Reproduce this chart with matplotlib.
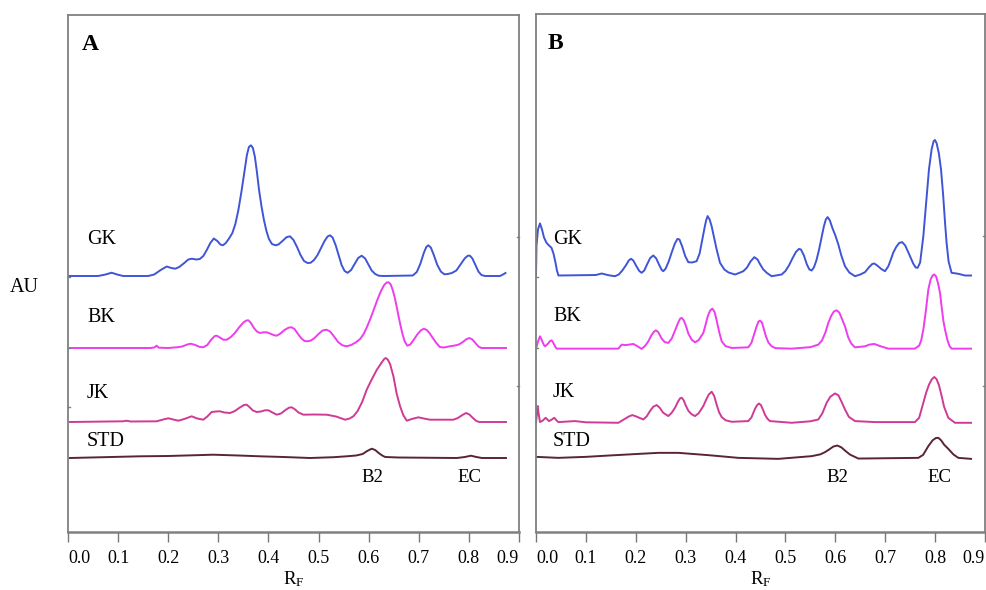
import matplotlib
matplotlib.use("Agg")
import matplotlib.pyplot as plt

plt.rcParams['font.family'] = ['Liberation Serif', 'DejaVu Serif']
plt.rcParams['mathtext.fontset'] = 'custom'
plt.rcParams['mathtext.rm'] = 'Liberation Serif'
plt.rcParams['mathtext.it'] = 'Liberation Serif:italic'

# ---------------- Panel A data (Rf, intensity above baseline) ----------------
a_gk_rf = [0.000, 0.060, 0.075, 0.087, 0.098, 0.110, 0.160, 0.172, 0.185, 0.197, 0.206, 0.214, 0.222, 0.232,
           0.240, 0.247, 0.256, 0.263, 0.270, 0.277, 0.284, 0.291, 0.298, 0.304, 0.309, 0.315, 0.322, 0.328,
           0.334, 0.340, 0.346, 0.352, 0.357, 0.361, 0.365, 0.369, 0.373, 0.377, 0.381, 0.386, 0.391, 0.396,
           0.401, 0.407, 0.414, 0.420, 0.428, 0.436, 0.443, 0.450, 0.457, 0.464, 0.471, 0.478, 0.484, 0.491,
           0.498, 0.505, 0.512, 0.518, 0.523, 0.528, 0.534, 0.540, 0.546, 0.552, 0.558, 0.565, 0.572, 0.579,
           0.586, 0.593, 0.600, 0.606, 0.613, 0.620, 0.630, 0.688, 0.696, 0.703, 0.710, 0.715, 0.719, 0.724,
           0.730, 0.737, 0.744, 0.751, 0.758, 0.766, 0.775, 0.784, 0.792, 0.798, 0.802, 0.807, 0.813, 0.819,
           0.825, 0.832, 0.862, 0.868, 0.873]
a_gk_au = [0, 0, 1.5, 3.3, 1.5, 0, 0, 1.5, 6, 9.5, 8, 7.3, 9, 13,
           16.5, 17.3, 16.5, 17, 20, 26, 33, 37.5, 35, 31.5, 30.7, 33, 38, 43,
           52, 66, 84, 104, 121, 129, 130.7, 128, 119, 104, 87, 70, 56, 45,
           37, 32, 30.7, 31.5, 35, 38.8, 39.7, 36, 29, 21, 15, 13, 13.2, 16,
           21, 28, 35, 39.5, 40.7, 38.5, 31, 21, 11, 5, 3.2, 6, 12, 18,
           20.3, 17.5, 11, 5.5, 2, 0.3, 0, 0.5, 4, 12, 23, 29, 30.7, 28.5,
           21, 11, 4.5, 1.7, 2, 3, 5.5, 12, 17.8, 20.3, 20.3, 17.5, 11, 4.5,
           1, 0, 0, 1.5, 3]

a_bk_rf = [0.004, 0.165, 0.172, 0.177, 0.181, 0.200, 0.217, 0.228, 0.238, 0.245, 0.254, 0.262, 0.270, 0.278,
           0.286, 0.293, 0.297, 0.303, 0.310, 0.317, 0.325, 0.333, 0.342, 0.350, 0.356, 0.360, 0.365, 0.371,
           0.377, 0.383, 0.390, 0.397, 0.404, 0.411, 0.4165, 0.424, 0.432, 0.440, 0.446, 0.452, 0.459, 0.466,
           0.472, 0.478, 0.485, 0.492, 0.500, 0.508, 0.516, 0.523, 0.531, 0.539, 0.547, 0.556, 0.565, 0.574,
           0.583, 0.590, 0.597, 0.604, 0.611, 0.618, 0.625, 0.631, 0.636, 0.640, 0.644, 0.648, 0.652, 0.656,
           0.660, 0.664, 0.668, 0.672, 0.677, 0.683, 0.690, 0.697, 0.704, 0.710, 0.716, 0.722, 0.728, 0.735,
           0.742, 0.750, 0.762, 0.772, 0.780, 0.788, 0.795, 0.801, 0.807, 0.813, 0.819, 0.825, 0.874]
a_bk_au = [0, 0, 0.5, 2.3, 0.3, 0, 0.7, 1.5, 3.5, 4.3, 3, 1.2, 0.7, 3,
           8.5, 12, 12.3, 10.5, 8.3, 8.3, 11, 15, 21, 25.5, 27.5, 27.7, 25, 20,
           16.5, 15, 15.7, 15.7, 14.3, 12.8, 12.3, 14.5, 18, 20.3, 20.7, 19, 14, 9.5,
           7, 6.7, 7.5, 10, 14, 17.5, 18.3, 16.5, 11.5, 6, 2.8, 1.7, 3, 5.5,
           9, 14, 21.5, 30, 39.5, 49, 57.5, 63, 65.5, 65.7, 63.5, 58, 50.5, 41,
           31, 21.5, 13, 6.5, 2.3, 3.5, 8.3, 13.5, 17.5, 19.3, 18, 14.5, 10, 5,
           1, 0.5, 1.7, 2.5, 3.5, 6, 8.8, 10, 8.5, 5, 1.5, 0, 0]

a_jk_rf = [0.004, 0.110, 0.117, 0.125, 0.177, 0.190, 0.2003, 0.210, 0.2203, 0.232, 0.2468, 0.258, 0.270,
           0.278, 0.2867, 0.295, 0.3034, 0.312, 0.3234, 0.333, 0.343, 0.351, 0.3566, 0.362, 0.369, 0.3766,
           0.385, 0.393, 0.400, 0.408, 0.4165, 0.425, 0.434, 0.441, 0.4464, 0.452, 0.460, 0.4697, 0.490,
           0.5163, 0.535, 0.553, 0.562, 0.5695, 0.578, 0.587, 0.5961, 0.605, 0.616, 0.626, 0.631, 0.634,
           0.638, 0.6427, 0.6494, 0.656, 0.6627, 0.669, 0.676, 0.686, 0.6993, 0.710, 0.7225, 0.7691, 0.778,
           0.787, 0.7944, 0.801, 0.808, 0.815, 0.821, 0.874]
a_jk_au = [0, 0.7, 1.3, 0.5, 0.7, 2.5, 3.7, 2.5, 1.3, 3, 5.7, 3.5, 2.3,
           5.5, 10, 10.5, 10.7, 9.5, 9, 11, 14.5, 17, 17.3, 15, 11.5, 10,
           10.5, 11.7, 11.7, 9.5, 7.3, 8.5, 12, 14.3, 14.7, 13, 9.5, 7.3, 7.5,
           7.3, 5.5, 2.3, 3.5, 5.7, 11, 20, 32.3, 41.5, 52, 59.5, 63, 64,
           62.5, 58, 45.7, 28, 15.7, 7, 1.3, 3, 4.7, 3.5, 2.3, 2.3, 4,
           7, 9, 7.5, 4, 1, 0, 0]

a_std_rf = [0.004, 0.144, 0.200, 0.2901, 0.340, 0.383, 0.430, 0.483, 0.530, 0.556, 0.575, 0.588, 0.597,
            0.606, 0.613, 0.620, 0.627, 0.633, 0.660, 0.776, 0.792, 0.804, 0.815, 0.826, 0.874]
a_std_au = [0, 1.7, 2, 3.3, 2.5, 1.7, 1, 0, 0.8, 1.7, 2.5, 4, 7,
            9.3, 8, 5, 2.5, 1, 0.5, 0, 1, 2.3, 1, 0, 0]

# ---------------- Panel B data ----------------
b_gk_rf = [0.000, 0.001, 0.004, 0.008, 0.012, 0.016, 0.021, 0.026, 0.031, 0.035, 0.039, 0.042, 0.045, 0.090,
           0.120, 0.1317, 0.145, 0.1583, 0.166, 0.173, 0.180, 0.186, 0.1904, 0.195, 0.201, 0.207, 0.2118,
           0.217, 0.223, 0.229, 0.2351, 0.241, 0.247, 0.252, 0.2552, 0.260, 0.266, 0.272, 0.278, 0.2835, 0.2875,
           0.293, 0.299, 0.3053, 0.313, 0.322, 0.328, 0.333, 0.338, 0.341, 0.344, 0.348, 0.352, 0.356, 0.3621,
           0.3688, 0.3775, 0.386, 0.3989, 0.407, 0.4156, 0.423, 0.430, 0.4376, 0.444, 0.450, 0.4557,
           0.463, 0.4723, 0.4924, 0.500, 0.507, 0.514, 0.521, 0.527, 0.531, 0.537, 0.543, 0.548, 0.5525,
           0.557, 0.562, 0.567, 0.572, 0.577, 0.581, 0.5846, 0.589, 0.594, 0.600, 0.606, 0.612, 0.6193,
           0.628, 0.6394, 0.650, 0.6594, 0.668, 0.674, 0.678, 0.684, 0.692, 0.6995, 0.706, 0.711, 0.716,
           0.722, 0.728, 0.734, 0.740, 0.745, 0.7497, 0.756, 0.761, 0.765, 0.770, 0.7764, 0.782, 0.7877,
           0.793, 0.797, 0.7997, 0.803, 0.8075, 0.8118, 0.816, 0.820, 0.823, 0.827, 0.833, 0.8466, 0.860,
           0.872]
b_gk_au = [0, 30, 46, 52, 46, 38, 32.7, 30, 27.7, 22, 13, 5, 0, 0.3,
           0.5, 2, 0.3, -0.7, 1, 5, 10, 15, 16.7, 15, 9.5, 4.5, 2.7,
           5, 11.5, 17.5, 20, 17, 10.5, 5.5, 4.3, 7, 14, 23, 31.5, 36.5, 36,
           29, 19.5, 13.3, 13, 14.3, 22, 35, 48, 55, 59.3, 56, 49.3, 40, 26,
           12.7, 6, 3, 1, 2.5, 4.3, 8, 14, 18.3, 16, 10.5, 6,
           2.5, -0.7, 1, 4.5, 10, 17, 23.5, 26.5, 26, 20, 11, 6, 5,
           8, 15, 25, 37, 49, 56, 58.3, 55, 47.5, 40, 31, 20, 9.3,
           3, -0.7, 1, 3.3, 8.5, 11.5, 12, 10, 6.5, 4.3, 9, 15.5, 22.7,
           28.5, 32.5, 33.3, 30, 24.5, 19.3, 12, 8, 7.7, 13, 39.3, 72, 106,
           126, 134, 135.3, 132, 122, 106, 81, 52, 32.7, 14, 2.7, 1.7, 0,
           0]

b_bk_rf = [0.000, 0.004, 0.008, 0.012, 0.016, 0.0184, 0.024, 0.028, 0.0314, 0.035, 0.039, 0.0414, 0.1651,
           0.1717, 0.180, 0.1951, 0.203, 0.2118, 0.219, 0.2252, 0.231, 0.2365, 0.2405, 0.245, 0.2519, 0.258,
           0.2653, 0.272, 0.2786, 0.285, 0.289, 0.292, 0.296, 0.300, 0.3054, 0.312, 0.3187, 0.326, 0.3354,
           0.3405, 0.3441, 0.349, 0.3535, 0.358, 0.3622, 0.367, 0.3722, 0.380, 0.3922, 0.4256, 0.432, 0.437,
           0.442, 0.446, 0.449, 0.453, 0.457, 0.461, 0.466, 0.4724, 0.480, 0.5125, 0.550, 0.5659, 0.573,
           0.580, 0.5859, 0.592, 0.597, 0.6026, 0.608, 0.613, 0.6193, 0.626, 0.632, 0.6394, 0.6594, 0.668,
           0.678, 0.690, 0.7061, 0.7595, 0.768, 0.772, 0.7764, 0.781, 0.7864, 0.791, 0.795, 0.7984, 0.802,
           0.806, 0.8098, 0.8135, 0.8165, 0.8198, 0.825, 0.829, 0.8331, 0.872]
b_bk_au = [0, 7, 12.3, 8, 3.5, 2.3, 5, 7.5, 8.3, 5.5, 1.5, 0, 0,
           4, 3.5, 4.7, 2.5, -0.3, 3, 7.3, 13, 17, 18.3, 16.5, 10, 6.5,
           5.7, 10, 18, 26, 30, 30.7, 28.5, 23.5, 15, 9, 6.3, 8.5, 15.7,
           25, 32, 38, 40, 36.5, 28, 17, 7.3, 2.5, 0.7, 1.3, 6, 14,
           22, 27, 28, 26, 19, 12, 6, 2.3, 0.5, 0, 1.5, 4, 8,
           16, 25.7, 33, 37, 38.3, 36, 30, 22.3, 11, 5, 1.3, 2.3, 4,
           4.7, 2.5, 0, 0, 3, 8, 19, 36, 59, 69, 73, 74, 72,
           65, 55.7, 40, 28, 19, 8, 2.5, 0, 0]

b_jk_rf = [0.000, 0.0025, 0.0035, 0.005, 0.008, 0.013, 0.0194, 0.026, 0.031, 0.0367, 0.041, 0.0448, 0.0782,
           0.100, 0.1651, 0.1784, 0.186, 0.1931, 0.200, 0.2151, 0.222, 0.2285, 0.235, 0.2419, 0.248, 0.255,
           0.2653, 0.272, 0.2786, 0.285, 0.289, 0.292, 0.296, 0.300, 0.3054, 0.312, 0.3187, 0.326, 0.3354,
           0.341, 0.346, 0.3521, 0.357, 0.3622, 0.367, 0.3722, 0.380, 0.3922, 0.4256, 0.432, 0.439, 0.443,
           0.447, 0.451, 0.455, 0.459, 0.464, 0.469, 0.5125, 0.550, 0.5659, 0.574, 0.5826, 0.590, 0.5993,
           0.606, 0.612, 0.6193, 0.627, 0.6394, 0.6794, 0.7595, 0.768, 0.7764, 0.782, 0.7877, 0.7935, 0.7984,
           0.803, 0.808, 0.8131, 0.818, 0.8264, 0.8398, 0.872]
b_jk_au = [0, 12, 16.7, 10, 0.7, 2, 5, 1.7, 3, 5, 2.5, 0.7, 1.7,
           0.5, 0, 4, 6.3, 7.7, 6.5, 3.3, 6.5, 11.7, 16, 17.7, 15, 10,
           6.7, 10, 15, 21.5, 24.5, 25, 22.5, 17.5, 12, 8.5, 6.7, 9.5, 16.7,
           23, 28, 31, 27, 18, 10.5, 5.7, 2.5, 1, 1.7, 5.5, 14, 17.5,
           19.3, 17.5, 13, 8, 4, 1.7, 0, 1.5, 3.3, 9.5, 20, 26, 29.3,
           27.5, 21.5, 13.3, 6, 1.7, 0.7, 0.7, 5, 20, 30, 38, 43.5, 45.7,
           43.5, 37, 26.7, 16, 5, 0, 0]

b_std_rf = [0.000, 0.0448, 0.100, 0.145, 0.200, 0.2452, 0.2853, 0.3454, 0.4056, 0.4858, 0.5525, 0.570,
            0.5793, 0.588, 0.596, 0.604, 0.612, 0.620, 0.6293, 0.6461, 0.7664, 0.776, 0.7864, 0.795, 0.8015,
            0.8065, 0.812, 0.8183, 0.8264, 0.8365, 0.8465, 0.872]
b_std_au = [1, 0, 1, 2.3, 3.8, 5, 5, 2.7, 0, -1, 1.7, 3.5,
            5.7, 8.5, 11.3, 12.3, 10.5, 7, 3.3, -0.7, 0, 3, 11.7, 17.5, 19.8,
            20, 17.5, 13, 9, 3.5, 0, -1]

# trace names and vertical offsets (baselines)
trace_names = ["GK", "BK", "JK", "STD"]
baselines_a = [256, 184, 110, 74]
baselines_b = [256, 183, 109, 74]
colors = ["#3f55d6", "#ee3cee", "#cf3a96", "#5a2438"]

x_ticks = [0.0, 0.1, 0.2, 0.3, 0.4, 0.5, 0.6, 0.7, 0.8, 0.9]
x_ticklabels = ["0.0", "0.1", "0.2", "0.3", "0.4", "0.5", "0.6", "0.7", "0.8", "0.9"]

fig = plt.figure(figsize=(9.87, 5.90), dpi=100)
W, H = 987, 590


def px_axes(l, r, t, b):
    return [l / W, 1 - b / H, (r - l) / W, (b - t) / H]


axA = fig.add_axes(px_axes(68, 519, 15, 532))
axB = fig.add_axes(px_axes(536, 985, 14, 532))

panels = [
    (axA, "A", [(a_gk_rf, a_gk_au), (a_bk_rf, a_bk_au), (a_jk_rf, a_jk_au), (a_std_rf, a_std_au)],
     baselines_a, 0.028, 0.038, (0.607, 0.802)),
    (axB, "B", [(b_gk_rf, b_gk_au), (b_bk_rf, b_bk_au), (b_jk_rf, b_jk_au), (b_std_rf, b_std_au)],
     baselines_b, 0.024, 0.034, (0.605, 0.808)),
]

label_y = [292, 215, 139, 90]

for ax, letter, traces, bases, lx, nx, (b2x, ecx) in panels:
    for (rf, au), base, col in zip(traces, bases, colors):
        ax.plot(rf, [base + v for v in au], color=col, lw=1.4, solid_joinstyle='round')
    ax.set_xlim(0, 0.9)
    ax.set_ylim(0, 517)
    ax.set_xticks(x_ticks)
    ax.set_xticklabels(x_ticklabels)
    ax.tick_params(axis='x', direction='out', length=7, width=1.0, color='#777777',
                   labelsize=13, pad=6)
    labels = ax.get_xticklabels()
    labels[0].set_horizontalalignment('left')
    labels[-1].set_horizontalalignment('right')
    ax.set_yticks([])
    for sp in ax.spines.values():
        sp.set_color('#808080')
        sp.set_linewidth(1.3)
    ax.spines['bottom'].set_linewidth(1.8)
    ax.text(lx, 488, letter, fontsize=17, fontweight='bold', ha='left', va='center')
    for name, ly in zip(trace_names, label_y):
        ax.text(nx, ly, name, fontsize=14.5, ha='left', va='center')
    ax.text(b2x, 54, "B2", fontsize=13.5, ha='center', va='center')
    ax.text(ecx, 54, "EC", fontsize=13.5, ha='center', va='center')

# small marks on the frames
for ax in (axA, axB):
    for yv in (255, 184, 125):
        ax.plot([0, 0.004], [yv, yv], color='#808080', lw=1.0, clip_on=False)
    for yv in (295, 146):
        ax.plot([0.896, 0.9], [yv, yv], color='#808080', lw=1.0, clip_on=False)

fig.text(10 / W, 1 - 287 / H, "AU", fontsize=14.5, ha='left', va='center')
fig.text((68 + 519) / 2 / W, 1 - 579 / H, r"R$_{\mathrm{F}}$", fontsize=13.5, ha='center', va='center')
fig.text((536 + 985) / 2 / W, 1 - 579 / H, r"R$_{\mathrm{F}}$", fontsize=13.5, ha='center', va='center')

fig.savefig("out.png", dpi=100)
